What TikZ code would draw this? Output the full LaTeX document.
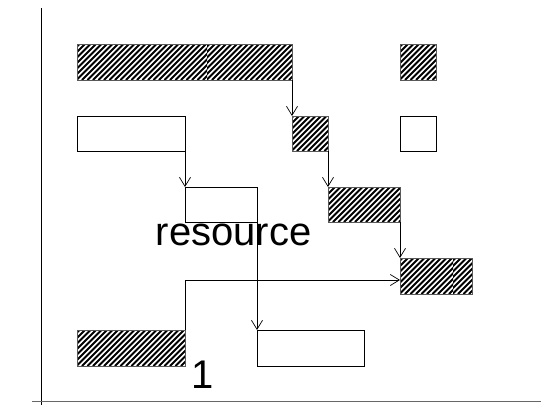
\documentclass[tikz,border=0pt]{standalone}
\usepackage{fontspec}
\setmainfont{Liberation Sans}
\usetikzlibrary{arrows.meta}
\begin{document}
\begin{tikzpicture}[x=1pt,y=-1pt,
  bar/.style={inner sep=0pt, outer sep=0pt, anchor=north west, line width=0.8pt},
  emptybar/.style={bar, draw=black, fill=white},
  hatchfill/.style={bar,
    path picture={
      \foreach \i in {-50,-44.5,...,230}{
        \draw[line width=1.8pt, black] ([xshift=\i pt]path picture bounding box.south west) -- ++(60pt,60pt);
      }
    }},
  hatchbar/.style={hatchfill, draw=black!65},
  arr/.style={line width=0.7pt, -{Straight Barb[length=9pt,width=11pt,line width=0.7pt]}},
  lbl/.style={font=\fontsize{40pt}{44pt}\selectfont, inner sep=0pt, anchor=base}
]
\useasboundingbox (0,0) rectangle (541,405);
\fill[white] (0,0) rectangle (541,405);
% axes
\coordinate (ax0) at (41.5,8);
\coordinate (ax1) at (41.5,405);
\coordinate (ay0) at (32,401.5);
\coordinate (ay1) at (541,401.5);
\draw[line width=1pt] (ax0) -- (ax1);
\draw[line width=1.5pt, black!60] (ay0) -- (ay1);
% bars
\node[hatchfill, minimum width=130pt, minimum height=36pt] (A1) at (77,44) {};
\node[hatchfill, minimum width=85pt, minimum height=36pt] (A2) at (207,44) {};
\draw[line width=0.8pt, black!65] (A1.north west) rectangle (A2.south east);
\node[hatchbar, minimum width=36pt, minimum height=36pt] (B) at (400,44) {};
\node[emptybar, minimum width=108pt, minimum height=35pt] (C) at (77,116) {};
\node[hatchbar, minimum width=36pt, minimum height=35pt] (D) at (292,116) {};
\node[emptybar, minimum width=36pt, minimum height=35pt] (E) at (400,116) {};
\node[emptybar, minimum width=72pt, minimum height=35pt] (F) at (185,187) {};
\node[hatchbar, minimum width=72pt, minimum height=35pt] (G) at (328,187) {};
\node[hatchfill, minimum width=53pt, minimum height=36pt] (H1) at (400,258) {};
\node[hatchfill, minimum width=19pt, minimum height=36pt] (H2) at (453,258) {};
\draw[line width=0.8pt, black!65] (H1.north west) rectangle (H2.south east);
\node[hatchbar, minimum width=108pt, minimum height=36pt] (I) at (77,330) {};
\node[emptybar, minimum width=107pt, minimum height=36pt] (J) at (257,330) {};
% labels
\node[lbl] (res) at (233.5,245) {resource};
\node[lbl] (one) at (202.5,388) {1};
% connectors
\draw[arr] (A2.south east) -- (D.north west);
\draw[arr] (C.south east) -- (F.north west);
\draw[arr] (D.south east) -- (G.north west);
\draw[arr] (G.south east) -- (H1.north west);
\draw[arr] (F.south east) -- (J.north west);
\draw[arr] (I.north east) |- ([yshift=-4pt]H1.west);
\end{tikzpicture}
\end{document}
